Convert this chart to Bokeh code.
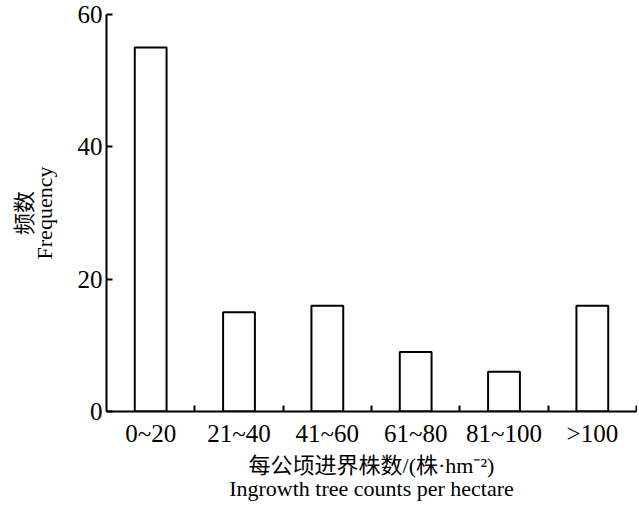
from bokeh.plotting import figure
from bokeh.models import ColumnDataSource, Range1d, FixedTicker, LinearAxis
from bokeh.embed import file_html
from bokeh.resources import INLINE

categories = ["0~20", "21~40", "41~60", "61~80", "81~100", ">100"]
frequency = [55, 15, 16, 9, 6, 16]
y_ticks = [0, 20, 40, 60]
x_title = "每公顷进界株数/(株·hm⁻²)\nIngrowth tree counts per hectare"
y_title = "频数\nFrequency"

x_centers = [i + 0.5 for i in range(len(categories))]
x_bounds = [i + 1 for i in range(len(categories))]

FONT = "'Liberation Serif', 'Times New Roman', 'Noto Sans CJK SC', serif"

p = figure(width=637, height=505, output_backend="svg", toolbar_location=None,
           x_range=Range1d(0, len(categories)), y_range=Range1d(0, 60),
           x_axis_type=None, y_axis_type=None,
           min_border_left=106, min_border_right=1, min_border_top=14, min_border_bottom=94)
p.outline_line_color = None
p.grid.visible = False

src = ColumnDataSource(dict(x=x_centers, top=frequency))
p.vbar(x="x", top="top", width=0.36, bottom=0, source=src,
       fill_color="white", line_color="black", line_width=2)

xaxis = LinearAxis(ticker=FixedTicker(ticks=x_centers, minor_ticks=x_bounds),
                   major_label_overrides={c: lab for c, lab in zip(x_centers, categories)},
                   axis_label=x_title)
xaxis.axis_line_width = 2
xaxis.axis_line_color = "black"
xaxis.major_tick_in = 0
xaxis.major_tick_out = 0
xaxis.minor_tick_in = 6
xaxis.minor_tick_out = 0
xaxis.minor_tick_line_width = 2
xaxis.minor_tick_line_color = "black"
xaxis.major_label_text_font = FONT
xaxis.major_label_text_font_size = "25px"
xaxis.major_label_text_color = "black"
xaxis.major_label_standoff = 8
xaxis.axis_label_text_font = FONT
xaxis.axis_label_text_font_size = "22px"
xaxis.axis_label_text_font_style = "normal"
xaxis.axis_label_text_color = "black"
xaxis.axis_label_text_line_height = 0.92
xaxis.axis_label_standoff = 3
p.add_layout(xaxis, "below")

yaxis = LinearAxis(ticker=FixedTicker(ticks=y_ticks, minor_ticks=[]), axis_label=y_title)
yaxis.axis_line_width = 2
yaxis.axis_line_color = "black"
yaxis.major_tick_in = 6
yaxis.major_tick_out = 0
yaxis.major_tick_line_width = 2
yaxis.major_tick_line_color = "black"
yaxis.minor_tick_in = 0
yaxis.minor_tick_out = 0
yaxis.major_label_text_font = FONT
yaxis.major_label_text_font_size = "25px"
yaxis.major_label_text_color = "black"
yaxis.major_label_standoff = 4
yaxis.major_label_orientation = "horizontal"
yaxis.axis_label_text_font = FONT
yaxis.axis_label_text_font_size = "22px"
yaxis.axis_label_text_font_style = "normal"
yaxis.axis_label_text_color = "black"
yaxis.axis_label_text_line_height = 0.8
yaxis.axis_label_standoff = 18
p.add_layout(yaxis, "left")

open("out.html", "w").write(file_html(p, INLINE))
